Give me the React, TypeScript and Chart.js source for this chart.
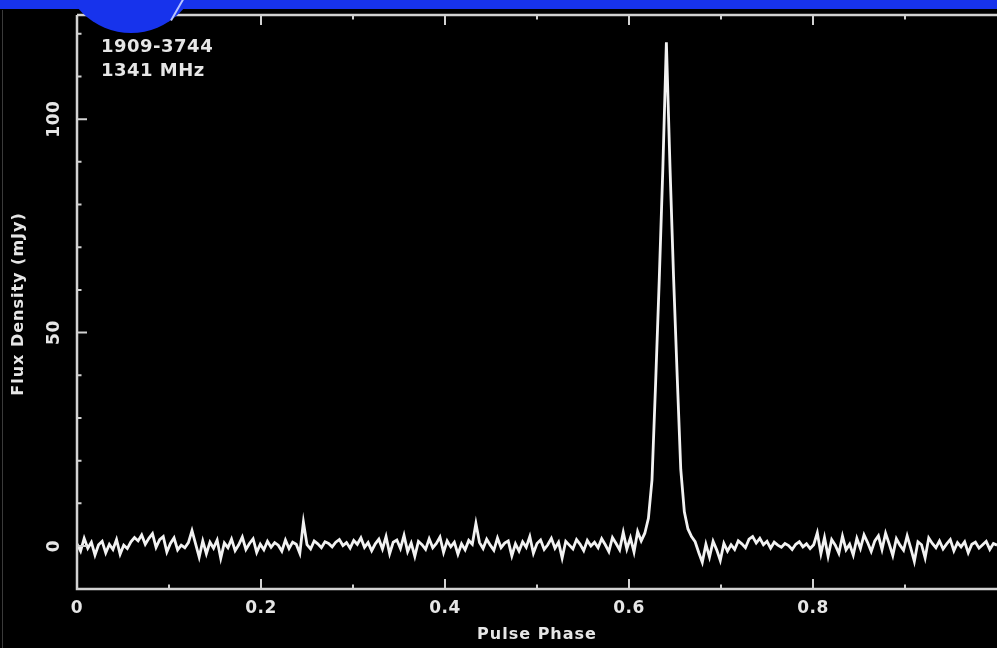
import React, { useEffect, useRef } from "react";
import { Chart, registerables } from "chart.js";

Chart.register(...registerables);

// Pulse profile of PSR J1909-3744 at 1341 MHz, 256 phase bins (+ wrap bin at phase 1.0)
const NBINS = 256;
const fluxDensity: number[] = [
  // bins 0-15
  0.5, -1.2, 1.8, -0.5, 0.9, -2.1, 0.3, 1.1, -1.6, 0.4, -0.8, 1.5, -1.9, 0.2, -0.6, 1.0,
  // bins 16-31
  2.0, 1.2, 2.6, 0.4, 1.8, 2.9, -0.3, 1.5, 2.2, -1.4, 0.6, 1.9, -0.9, 0.2, -0.4, 0.8,
  // bins 32-47
  3.6, 0.5, -2.6, 1.2, -1.8, 0.9, -0.5, 1.4, -2.9, 0.7, -0.4, 1.6, -1.1, 0.3, 2.1, -0.8,
  // bins 48-63
  0.6, 1.7, -1.5, 0.4, -0.9, 1.1, -0.3, 0.8, 0.2, -1.2, 1.4, -0.6, 0.9, 0.4, -1.7, 5.6,
  // bins 64-79
  0.3, -0.7, 1.2, 0.5, -0.4, 1.0, 0.6, -0.2, 0.9, 1.5, 0.1, 0.8, -0.5, 1.3, 0.4, 1.9,
  // bins 80-95
  -0.3, 0.8, -1.1, 0.5, 1.6, -0.7, 2.2, -1.8, 0.9, 1.4, -0.6, 2.5, -1.3, 0.7, -2.4, 1.1,
  // bins 96-111
  0.3, -0.8, 1.7, -0.4, 0.6, 2.1, -1.5, 1.2, -0.2, 0.9, -1.9, 0.5, -0.9, 1.3, 0.4, 5.3,
  // bins 112-127
  0.8, -0.6, 1.6, 0.2, -1.0, 1.9, -0.4, 0.7, 1.2, -2.3, 0.5, -1.2, 1.0, -0.3, 2.2, -1.7,
  // bins 128-143
  0.6, 1.4, -0.8, 0.3, 1.8, -0.5, 0.9, -2.8, 1.1, 0.2, -0.7, 1.5, 0.4, -1.1, 1.3, 0.0,
  // bins 144-156
  0.9, -0.4, 1.7, 0.3, -1.3, 2.0, 0.6, -0.9, 3.2, -0.7, 1.9, -1.4, 3.4,
  // bins 157-172 (main pulse)
  1.2, 3.0, 6.5, 15.5, 38, 62, 88, 118, 89, 63, 40, 18, 8, 4, 2.2, 1.0,
  // bins 173-191
  -1.5, -3.8, 0.4, -2.6, 1.1, -0.9, -3.4, 0.6, -1.2, 0.3, -0.8, 1.2, 0.5, -0.4, 1.6, 2.2, 0.7, 1.8, 0.3,
  // bins 192-207
  1.1, -0.5, 0.9, 0.2, -0.3, 0.6, 0.1, -0.8, 0.4, 1.0, -0.2, 0.5, -0.6, 0.3, 3.1, -1.8,
  // bins 208-223
  2.0, -2.4, 1.5, 0.2, -1.7, 2.3, -0.9, 0.4, -2.1, 1.8, -0.6, 2.6, 0.8, -1.3, 1.2, 2.4,
  // bins 224-239
  -0.8, 3.0, 0.5, -2.2, 1.7, 0.2, -1.0, 2.4, -0.5, -3.6, 1.0, 0.3, -2.8, 1.9, 0.6, -0.4,
  // bins 240-255
  1.2, -0.7, 0.5, 1.5, -1.1, 0.8, -0.2, 1.0, -1.6, 0.4, 0.9, -0.5, 0.3, 1.1, -0.8, 0.6,
  // phase 1.0
  0.2,
];

const xTickValues = [0, 0.2, 0.4, 0.6, 0.8];
const xTickLabels = ["0", "0.2", "0.4", "0.6", "0.8"];
const xMinorTicks = [0.1, 0.3, 0.5, 0.7, 0.9];
const yTickValues = [0, 50, 100];
const yTickLabels = ["0", "50", "100"];
const yMinorTicks = [10, 20, 30, 40, 60, 70, 80, 90, 110, 120];

const xTitle = "Pulse Phase";
const yTitle = "Flux Density (mJy)";
const annotationLines = ["1909-3744", "1341 MHz"];

const TEXT = "#e6e6e6";
const FRAME = "#d2d2d2";

const pgplotFrame = {
  id: "pgplotFrame",
  afterDraw(chart: any) {
    const { ctx, chartArea: a, scales } = chart;
    const x = scales.x;
    const y = scales.y;
    ctx.save();
    ctx.strokeStyle = FRAME;
    ctx.lineWidth = 2.5;
    ctx.beginPath();
    ctx.moveTo(a.left, a.top);
    ctx.lineTo(a.left, a.bottom);
    ctx.lineTo(a.right + 3, a.bottom);
    ctx.moveTo(a.left, a.top);
    ctx.lineTo(a.right + 3, a.top);
    ctx.stroke();

    ctx.lineWidth = 2;
    ctx.beginPath();
    const major = 10;
    const minor = 4.5;
    xTickValues.forEach((v) => {
      const px = x.getPixelForValue(v);
      ctx.moveTo(px, a.bottom);
      ctx.lineTo(px, a.bottom - major);
      ctx.moveTo(px, a.top);
      ctx.lineTo(px, a.top + major);
    });
    xMinorTicks.forEach((v) => {
      const px = x.getPixelForValue(v);
      ctx.moveTo(px, a.bottom);
      ctx.lineTo(px, a.bottom - minor);
      ctx.moveTo(px, a.top);
      ctx.lineTo(px, a.top + minor);
    });
    yTickValues.forEach((v) => {
      const py = y.getPixelForValue(v);
      ctx.moveTo(a.left, py);
      ctx.lineTo(a.left + major, py);
    });
    yMinorTicks.forEach((v) => {
      const py = y.getPixelForValue(v);
      ctx.moveTo(a.left, py);
      ctx.lineTo(a.left + minor, py);
    });
    ctx.stroke();

    ctx.fillStyle = TEXT;
    (ctx as any).letterSpacing = "0.5px";
    ctx.font = 'bold 17px "DejaVu Sans"';
    ctx.textAlign = "center";
    ctx.textBaseline = "middle";
    xTickValues.forEach((v, i) => {
      ctx.fillText(xTickLabels[i], x.getPixelForValue(v), a.bottom + 20);
    });
    yTickValues.forEach((v, i) => {
      ctx.save();
      ctx.translate(a.left - 22, y.getPixelForValue(v));
      ctx.rotate(-Math.PI / 2);
      ctx.fillText(yTickLabels[i], 0, 0);
      ctx.restore();
    });

    (ctx as any).letterSpacing = "1px";
    ctx.font = 'bold 16px "DejaVu Sans"';
    ctx.fillText(xTitle, 537, a.bottom + 46);
    ctx.save();
    ctx.translate(19, 304);
    ctx.rotate(-Math.PI / 2);
    ctx.fillText(yTitle, 0, 0);
    ctx.restore();

    (ctx as any).letterSpacing = "0.5px";
    ctx.font = 'bold 18px "DejaVu Sans"';
    ctx.textAlign = "left";
    ctx.textBaseline = "alphabetic";
    ctx.fillText(annotationLines[0], 101, 52);
    ctx.fillText(annotationLines[1], 101, 76);
    ctx.restore();
  },
};

export default function App() {
  const canvasRef = useRef<HTMLCanvasElement | null>(null);

  useEffect(() => {
    if (!canvasRef.current) return;
    const points = fluxDensity.map((v, i) => ({ x: i / NBINS, y: v }));
    const chart = new Chart(canvasRef.current, {
      type: "line",
      data: {
        datasets: [
          {
            data: points,
            borderColor: "#f2f2f2",
            borderWidth: 2.8,
            pointRadius: 0,
            tension: 0,
            fill: false,
          },
        ],
      },
      options: {
        responsive: true,
        maintainAspectRatio: false,
        animation: false,
        layout: { padding: { left: 77, right: 0, top: 15, bottom: 59 } },
        plugins: { legend: { display: false }, tooltip: { enabled: false } },
        scales: {
          x: { type: "linear", min: 0, max: 1, display: false },
          y: { type: "linear", min: -10.07, max: 124.4, display: false },
        },
      },
      plugins: [pgplotFrame],
    });
    return () => chart.destroy();
  }, []);

  return (
    <div
      style={{
        position: "absolute",
        left: 0,
        top: 0,
        width: 997,
        height: 648,
        background: "#000",
        overflow: "hidden",
      }}
    >
      <div style={{ position: "absolute", left: 0, top: 0, width: 997, height: 648, filter: "blur(0.6px)" }}>
        <canvas ref={canvasRef} />
      </div>
      <div
        style={{
          position: "absolute",
          left: 0,
          top: 0,
          width: 997,
          height: 9,
          background: "#1733ec",
        }}
      />
      <div
        style={{
          position: "absolute",
          left: 62,
          top: -105,
          width: 138,
          height: 138,
          borderRadius: "50%",
          background: "#1733ec",
        }}
      />
      <div
        style={{
          position: "absolute",
          left: 176,
          top: -2,
          width: 2,
          height: 24,
          background: "#b8c4ff",
          transform: "rotate(30deg)",
        }}
      />
      <div
        style={{
          position: "absolute",
          left: 2,
          top: 10,
          width: 1,
          height: 638,
          background: "#3a3a3a",
        }}
      />
    </div>
  );
}
